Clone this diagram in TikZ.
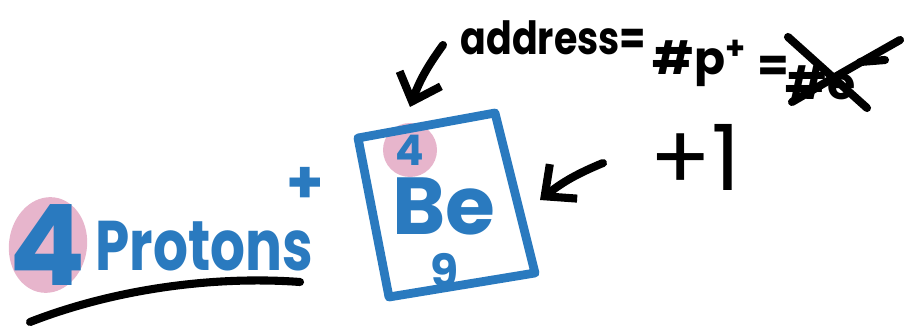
\documentclass[tikz,border=0pt]{standalone}
\usepackage{fontspec}
\setmainfont{Poppins}
\usetikzlibrary{arrows.meta}
\definecolor{inkblue}{HTML}{2A7ABF}
\definecolor{inkpink}{HTML}{E7B5CC}
\newcommand{\fsz}[1]{\fontsize{#1}{#1}\selectfont}

\begin{document}
\begin{tikzpicture}[line cap=round,line join=round]
\tikzset{edge/.style = {-{Straight Barb[length=2.4mm,width=4.4mm]}, line width=2.3pt}}
\tikzset{ink/.style = {line width=2.3pt}}
\tikzstyle{every node}=[font=\bfseries, inner sep=0pt]
\useasboundingbox (0,0) rectangle (9.07,3.29);
% pink highlights
\fill [inkpink] (0.48,0.84) ellipse [x radius=0.39, y radius=0.48, rotate=-8];
\fill [inkpink] (4.10,1.79) circle [radius=0.27];
% left label
\node [text=inkblue, font=\bfseries\fsz{32}] at (0.48,0.84)(bigfour) {4};
\node [text=inkblue, font=\bfseries\fsz{20}, anchor=base west, xscale=0.78] at (0.95,0.59)(protons) {Protons};
\node [text=inkblue, font=\bfseries\fsz{17}] at (3.05,1.44)(charge) {+};
\draw [ink] (0.30,0.07) .. controls (1.20,0.42) and (2.20,0.53) .. (3.00,0.47);
% element box
\coordinate (tl) at (3.58,1.91);
\coordinate (tr) at (4.95,2.16);
\coordinate (br) at (5.35,0.56);
\coordinate (bl) at (3.89,0.32);
\draw [inkblue, line width=2.5pt] (tl) -- (tr) -- (br) -- (bl) -- cycle;
\node [text=inkblue, font=\bfseries\fsz{12}] at (4.10,1.79)(znum) {4};
\node [text=inkblue, font=\bfseries\fsz{23}, anchor=base] at (4.44,0.95)(sym) {Be};
\node [text=inkblue, font=\bfseries\fsz{13}] at (4.45,0.59)(mass) {9};
% notes
\node [font=\bfseries\fsz{13}, anchor=base west, xscale=0.83] at (4.60,2.74)(addr) {address=};
\node [font=\bfseries\fsz{13}, anchor=base west] at (6.52,2.54)(hashp) {\#p\textsuperscript{+}};
\node [font=\bfseries\fsz{13}] at (7.73,2.60)(eqtwo) {=};
\node [font=\bfseries\fsz{13}, anchor=base west] at (7.85,2.29)(hashe) {\#e};
\draw [ink] (7.88,2.92) -- (8.67,2.21);
\draw [ink] (7.92,2.27) .. controls (8.40,2.55) .. (9.00,2.89);
\draw [ink] (8.60,2.67) -- (8.85,2.69);
\node [font=\mdseries\fsz{26}] at (6.95,1.72)(plusone) {+1};
% arrows
\coordinate (topstart) at (4.43,2.84);
\coordinate (topend) at (4.10,2.22);
\coordinate (sidestart) at (6.03,1.66);
\coordinate (sideend) at (5.40,1.29);
\draw [edge] (topstart) to [bend right=8] (topend);
\draw [edge] (sidestart) to [bend right=8] (sideend);
\end{tikzpicture}
\end{document}
